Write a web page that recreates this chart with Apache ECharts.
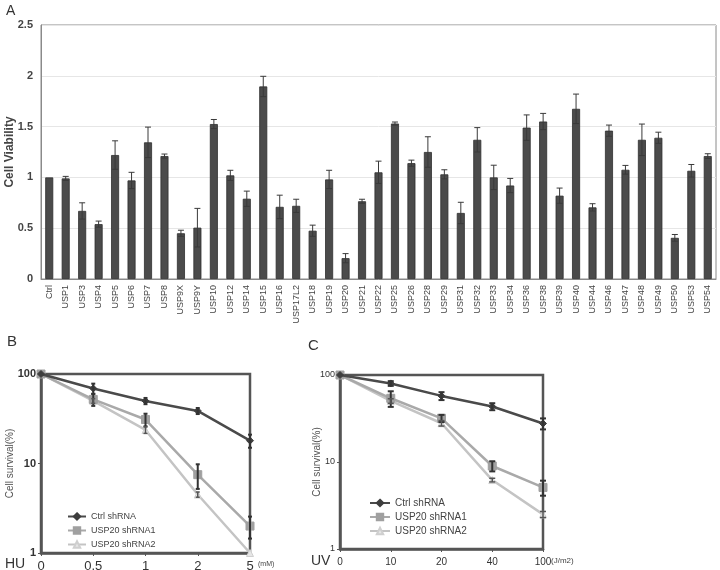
<!DOCTYPE html>
<html><head><meta charset="utf-8">
<script src="https://cdn.jsdelivr.net/npm/echarts@6/dist/echarts.min.js"></script>
<style>html,body{margin:0;padding:0;background:#fff}#c{width:720px;height:570px}</style>
</head><body><div id="c"></div>
<script>
// Panel A data
var categoriesA = ['Ctrl','USP1','USP3','USP4','USP5','USP6','USP7','USP8','USP9X','USP9Y','USP10','USP12','USP14','USP15','USP16','USP17L2','USP18','USP19','USP20','USP21','USP22','USP25','USP26','USP28','USP29','USP31','USP32','USP33','USP34','USP36','USP38','USP39','USP40','USP44','USP46','USP47','USP48','USP49','USP50','USP53','USP54'];
var viability = [1.0,0.99,0.67,0.54,1.22,0.97,1.345,1.21,0.45,0.505,1.525,1.02,0.79,1.895,0.71,0.72,0.475,0.98,0.205,0.765,1.05,1.53,1.14,1.25,1.03,0.65,1.37,1.0,0.92,1.49,1.55,0.82,1.675,0.705,1.46,1.075,1.37,1.39,0.405,1.065,1.21];
var viabilityErr = [0.0,0.02,0.08,0.03,0.14,0.08,0.15,0.02,0.03,0.19,0.045,0.05,0.075,0.10,0.115,0.065,0.055,0.09,0.045,0.02,0.11,0.015,0.03,0.15,0.045,0.105,0.12,0.12,0.07,0.125,0.08,0.075,0.145,0.036,0.055,0.043,0.155,0.055,0.033,0.062,0.023];
var yTicksA = [0,0.5,1,1.5,2,2.5];

// Panel B data (HU)
var doseB = ['0','0.5','1','2','5'];
var ctrlB = [100,69,50,38.7,18];
var ctrlBErr = [0,9,4,3,3];
var sh1B = [100,52,31,7.5,2.0];
var sh1BErr = [0,8,5,2.3,0.55];
var sh2B = [100,50,23.7,4.5,1.0];
var sh2BErr = [0,3,2,0.3,0];

// Panel C data (UV)
var doseC = ['0','10','20','40','100'];
var ctrlC = [100,80,57.5,43.4,27.7];
var ctrlCErr = [0,5,6,4,4];
var sh1C = [100,54,31.8,9.0,5.1];
var sh1CErr = [0,11,3,1.2,1.0];
var sh2C = [100,50.3,27.9,6.2,2.5];
var sh2CErr = [0,3,2,0.3,0.2];

var seriesNames = ['Ctrl shRNA','USP20 shRNA1','USP20 shRNA2'];
var lineColors = ['#4a4a4a','#a9a9a9','#c4c4c4'];
var markerColors = ['#3e3e3e','#a0a0a0','#e6e6e6'];
var symbols = ['diamond','rect','triangle'];

function errData(vals, errs){ return vals.map(function(v,i){ return [i, v, errs[i]]; }); }
function errSeries(xi, yi, data, capW, color, lw){
  return {
    type:'custom', xAxisIndex:xi, yAxisIndex:yi, data:data, z:5, silent:true,
    renderItem:function(params, api){
      var x = api.value(0), v = api.value(1), e = api.value(2);
      if (!e) return null;
      var top = api.coord([x, v + e]);
      var bot = api.coord([x, Math.max(v - e, 1e-6)]);
      var st = {stroke:color, lineWidth:lw};
      return {type:'group', children:[
        {type:'line', shape:{x1:top[0],y1:top[1],x2:bot[0],y2:bot[1]}, style:st},
        {type:'line', shape:{x1:top[0]-capW,y1:top[1],x2:top[0]+capW,y2:top[1]}, style:st},
        {type:'line', shape:{x1:bot[0]-capW,y1:bot[1],x2:bot[0]+capW,y2:bot[1]}, style:st}
      ]};
    }
  };
}

function lineSeries(xi, yi, idx, vals){
  return {
    name: seriesNames[idx], type:'line', xAxisIndex:xi, yAxisIndex:yi, data:vals,
    symbol: symbols[idx], symbolSize: idx===1?8:7, showSymbol:true,
    lineStyle:{color:lineColors[idx], width:2.5},
    itemStyle:{color:markerColors[idx], borderColor: idx===2?'#cfcfcf':markerColors[idx], borderWidth:1},
    z: 4 - idx
  };
}

var chart = echarts.init(document.getElementById('c'), null, {renderer:'canvas'});
var font = 'Liberation Sans, Arial, sans-serif';
chart.setOption({
  animation:false,
  textStyle:{fontFamily:font},
  grid:[
    {left:41, top:25, width:675, height:254, show:true, borderColor:'#8a8a8a', borderWidth:1, outerBoundsMode:'none', containLabel:false},
    {left:41, top:374, width:209, height:179, show:true, borderColor:'#555', borderWidth:2.5, outerBoundsMode:'none', containLabel:false},
    {left:340, top:375, width:203, height:174, show:true, borderColor:'#555', borderWidth:2.5, outerBoundsMode:'none', containLabel:false}
  ],
  legend:[
    {data:[seriesNames[0],seriesNames[1],seriesNames[2]], orient:'vertical', left:62, top:507, itemWidth:18, itemHeight:8, itemGap:5,
     textStyle:{fontSize:9, color:'#444', fontFamily:font}},
    {data:[seriesNames[0],seriesNames[1],seriesNames[2]], orient:'vertical', left:364, top:493, itemWidth:20, itemHeight:8, itemGap:4,
     textStyle:{fontSize:10, color:'#444', fontFamily:font}}
  ],
  xAxis:[
    {gridIndex:0, type:'category', data:categoriesA, boundaryGap:true,
     axisLine:{show:true, lineStyle:{color:'#8a8a8a'}}, axisTick:{show:false},
     axisLabel:{rotate:90, fontSize:9, color:'#444', margin:6, interval:0}},
    {gridIndex:1, type:'category', data:doseB, boundaryGap:false,
     axisLine:{lineStyle:{color:'#555', width:2.5}}, axisTick:{show:true, inside:false, length:3, lineStyle:{color:'#555'}},
     axisLabel:{fontSize:13, color:'#333', margin:7}},
    {gridIndex:2, type:'category', data:doseC, boundaryGap:false,
     axisLine:{lineStyle:{color:'#555', width:2.5}}, axisTick:{show:true, length:3, lineStyle:{color:'#555'}},
     axisLabel:{fontSize:10, color:'#333', margin:8}}
  ],
  yAxis:[
    {gridIndex:0, type:'value', min:yTicksA[0], max:yTicksA[yTicksA.length-1], interval:0.5,
     name:'Cell Viability', nameLocation:'middle', nameGap:25, nameRotate:90, nameMoveOverlap:false,
     nameTextStyle:{fontSize:12, fontWeight:'bold', color:'#444'},
     axisLine:{show:true, lineStyle:{color:'#8a8a8a'}}, axisTick:{show:false},
     axisLabel:{fontSize:11, color:'#444', fontWeight:'bold', margin:8},
     splitLine:{show:true, lineStyle:{color:'#e6e6e6'}}},
    {gridIndex:1, type:'log', logBase:10, min:1, max:100,
     name:'Cell survival(%)', nameLocation:'middle', nameGap:26, nameRotate:90, nameMoveOverlap:false,
     nameTextStyle:{fontSize:10, color:'#555'},
     axisLine:{show:true, lineStyle:{color:'#555', width:2.5}}, axisTick:{show:true, length:3, lineStyle:{color:'#555'}},
     axisLabel:{fontSize:11, color:'#333', fontWeight:'bold', margin:5},
     splitLine:{show:false}},
    {gridIndex:2, type:'log', logBase:10, min:1, max:100,
     name:'Cell survival(%)', nameLocation:'middle', nameGap:18, nameRotate:90, nameMoveOverlap:false,
     nameTextStyle:{fontSize:10, color:'#555'},
     axisLine:{show:true, lineStyle:{color:'#555', width:2.5}}, axisTick:{show:true, length:3, lineStyle:{color:'#555'}},
     axisLabel:{fontSize:9, color:'#333', margin:5},
     splitLine:{show:false}}
  ],
  series:[
    {type:'bar', xAxisIndex:0, yAxisIndex:0, data:viability, barWidth:8,
     itemStyle:{color:'#4b4b4b', borderColor:'#2e2e2e', borderWidth:0.8}},
    errSeries(0,0, errData(viability, viabilityErr), 3, '#3a3a3a', 1),
    lineSeries(1,1,0,ctrlB), lineSeries(1,1,1,sh1B), lineSeries(1,1,2,sh2B),
    errSeries(1,1, errData(ctrlB, ctrlBErr), 2, '#333', 2),
    errSeries(1,1, errData(sh1B, sh1BErr), 2, '#333', 2),
    errSeries(1,1, errData(sh2B, sh2BErr), 2, '#555', 1.5),
    lineSeries(2,2,0,ctrlC), lineSeries(2,2,1,sh1C), lineSeries(2,2,2,sh2C),
    errSeries(2,2, errData(ctrlC, ctrlCErr), 3, '#333', 2),
    errSeries(2,2, errData(sh1C, sh1CErr), 3, '#333', 2),
    errSeries(2,2, errData(sh2C, sh2CErr), 3, '#555', 1.5)
  ],
  graphic:[
    {type:'text', left:6, top:4, style:{text:'A', fontSize:14, fill:'#333', fontFamily:font}},
    {type:'text', left:7, top:334, style:{text:'B', fontSize:15, fill:'#333', fontFamily:font}},
    {type:'text', left:308, top:338, style:{text:'C', fontSize:15, fill:'#333', fontFamily:font}},
    {type:'text', left:5, top:557, style:{text:'HU', fontSize:14, fill:'#333', fontFamily:font}},
    {type:'text', left:258, top:561, style:{text:'(mM)', fontSize:7, fill:'#444', fontFamily:font}},
    {type:'text', left:311, top:554, style:{text:'UV', fontSize:14, fill:'#333', fontFamily:font}},
    {type:'text', left:551, top:557, style:{text:'(J/m2)', fontSize:8, fill:'#444', fontFamily:font}}
  ]
});
</script></body></html>
